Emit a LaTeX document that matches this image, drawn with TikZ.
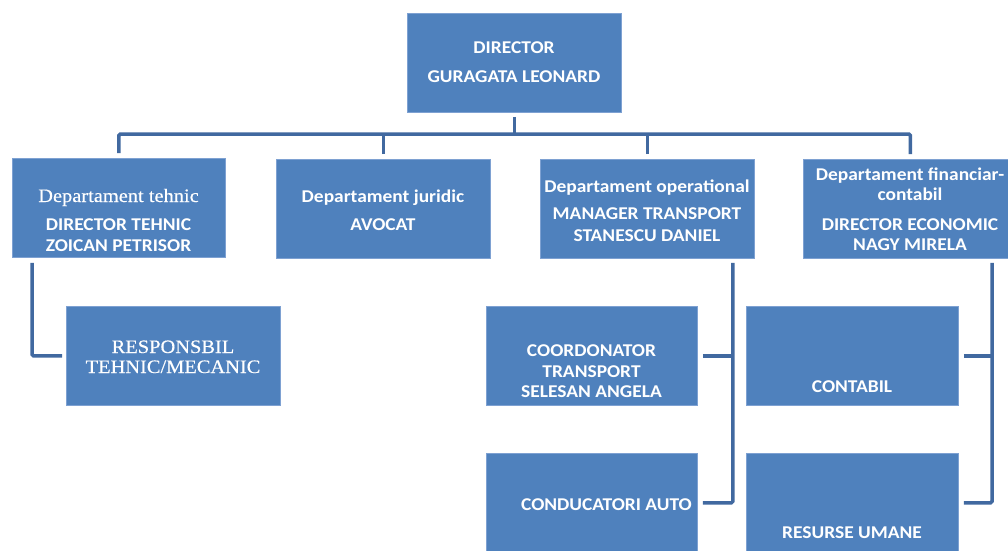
\documentclass[tikz,border=0pt]{standalone}
\usepackage{fontspec}
\newfontfamily\calfont[FakeStretch=1.08]{Carlito}
\newfontfamily\serfont[FakeStretch=1.075, FakeBold=0.4]{Liberation Serif}
\usetikzlibrary{calc}
\definecolor{boxblue}{HTML}{4F81BD}
\definecolor{boxedge}{HTML}{7EA1D2}
\definecolor{linkblue}{HTML}{4169A0}
\tikzset{
  orgbox/.style={fill=boxblue, draw=boxedge, line width=0.8pt, minimum height=99pt, inner sep=0pt, anchor=north west},
  lbl/.style={text=white, font=\calfont\bfseries\fontsize{18}{22}\selectfont, anchor=base, inner sep=0pt},
  slbl/.style={text=white, font=\serfont\fontsize{19}{22}\selectfont, anchor=base, inner sep=0pt},
  link/.style={draw=linkblue, line width=3.5pt, rounded corners=1.5pt},
}
\begin{document}
\begin{tikzpicture}[x=1pt, y=-1pt]
\useasboundingbox (0,0) rectangle (1008,550);
\clip (0,0) rectangle (1008,550);
\fill[white] (0,0) rectangle (1008,550);
% boxes
\node[orgbox, minimum width=214pt] (dir) at (407,13) {};
\node[orgbox, minimum width=213pt] (teh) at (12,158) {};
\node[orgbox, minimum width=214pt] (jur) at (276,159) {};
\node[orgbox, minimum width=214pt] (ope) at (540,159) {};
\node[orgbox, minimum width=214pt] (fin) at (803,159) {};
\node[orgbox, minimum width=214pt] (res) at (66,306) {};
\node[orgbox, minimum width=211pt] (coo) at (486,306) {};
\node[orgbox, minimum width=211pt] (con) at (486,453) {};
\node[orgbox, minimum width=212pt] (cta) at (746,306) {};
\node[orgbox, minimum width=212pt] (rum) at (746,453) {};
% connectors
\coordinate (bar) at (0,134);
\draw[link] ([yshift=-4pt]dir.south) -- (dir.south |- bar);
\draw[link] ([yshift=5pt]teh.north) |- (fin.north |- bar) -- ([yshift=5pt]fin.north);
\draw[link] ([yshift=5pt]jur.north) -- (jur.north |- bar);
\draw[link] ([yshift=5pt]ope.north) -- (ope.north |- bar);
\draw[link] ([xshift=20pt,yshift=-5pt]teh.south west) |- ([xshift=-4pt]res.west);
\coordinate (opespine) at ([xshift=-22pt]ope.south east);
\draw[link] ([yshift=-4pt]opespine) |- ([xshift=5pt]con.east);
\draw[link] ([xshift=5pt]coo.east) -- (coo.east -| opespine);
\coordinate (finspine) at ([xshift=189pt]fin.south west);
\draw[link] ([yshift=-4pt]finspine) |- ([xshift=5pt]rum.east);
\draw[link] ([xshift=5pt]cta.east) -- (cta.east -| finspine);
% texts
\node[lbl] (d1) at (514,53) {DIRECTOR};
\node[lbl] (d2) at (514,82) {GURAGATA LEONARD};
\node[slbl] (t1) at (118.5,202) {Departament tehnic};
\node[lbl] (t2) at (118.5,230) {DIRECTOR TEHNIC};
\node[lbl] (t3) at (118.5,251) {ZOICAN PETRISOR};
\node[lbl] (j1) at (383,202) {Departament juridic};
\node[lbl] (j2) at (383,230) {AVOCAT};
\node[lbl] (o1) at (647,192) {Departament operational};
\node[lbl] (o2) at (647,219) {MANAGER TRANSPORT};
\node[lbl] (o3) at (647,241) {STANESCU DANIEL};
\node[lbl] (f1) at (910,180) {Departament financiar-};
\node[lbl] (f2) at (910,200) {contabil};
\node[lbl] (f3) at (910,230) {DIRECTOR ECONOMIC};
\node[lbl] (f4) at (910,250) {NAGY MIRELA};
\node[slbl] (r1) at (173,353) {RESPONSBIL};
\node[slbl] (r2) at (173,373) {TEHNIC/MECANIC};
\node[lbl] (c1) at (591.5,356) {COORDONATOR};
\node[lbl] (c2) at (591.5,377) {TRANSPORT};
\node[lbl] (c3) at (591.5,397) {SELESAN ANGELA};
\node[lbl] (a1) at (606.5,510) {CONDUCATORI AUTO};
\node[lbl] (k1) at (852,392) {CONTABIL};
\node[lbl] (u1) at (852,538) {RESURSE UMANE};
\end{tikzpicture}
\end{document}
